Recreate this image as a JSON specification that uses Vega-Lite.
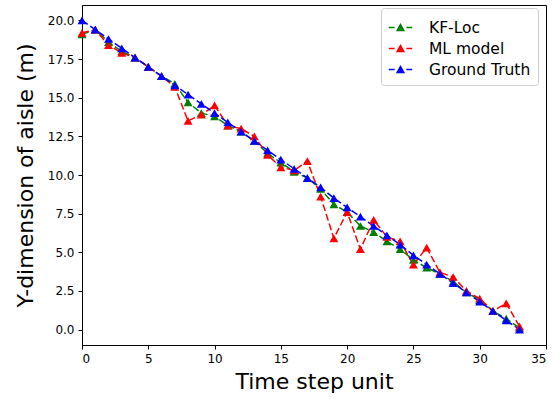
{
  "$schema": "https://vega.github.io/schema/vega-lite/v6.json",
  "width": 464,
  "height": 340,
  "autosize": "none",
  "padding": {"left": 82, "top": 5, "right": 9, "bottom": 55},
  "background": "white",
  "config": {
    "font": "DejaVu Sans",
    "view": {"stroke": "black", "strokeWidth": 1},
    "axis": {"grid": false, "domainColor": "black", "tickColor": "black", "labelColor": "black", "titleColor": "black", "labelFontSize": 12, "titleFontSize": 22, "titleFontWeight": "normal", "tickSize": 4, "labelPadding": 4}
  },
  "datasets": {
    "d": [
      {"t":0,"s":"KF-Loc","y":19.1},{"t":1,"s":"KF-Loc","y":19.4},{"t":2,"s":"KF-Loc","y":18.6},{"t":3,"s":"KF-Loc","y":18.0},{"t":4,"s":"KF-Loc","y":17.6},{"t":5,"s":"KF-Loc","y":17.0},{"t":6,"s":"KF-Loc","y":16.4},{"t":7,"s":"KF-Loc","y":15.9},{"t":8,"s":"KF-Loc","y":14.7},{"t":9,"s":"KF-Loc","y":14.0},{"t":10,"s":"KF-Loc","y":13.8},{"t":11,"s":"KF-Loc","y":13.2},{"t":12,"s":"KF-Loc","y":12.8},{"t":13,"s":"KF-Loc","y":12.2},{"t":14,"s":"KF-Loc","y":11.4},{"t":15,"s":"KF-Loc","y":10.8},{"t":16,"s":"KF-Loc","y":10.2},{"t":17,"s":"KF-Loc","y":9.8},{"t":18,"s":"KF-Loc","y":9.1},{"t":19,"s":"KF-Loc","y":8.1},{"t":20,"s":"KF-Loc","y":7.6},{"t":21,"s":"KF-Loc","y":6.7},{"t":22,"s":"KF-Loc","y":6.3},{"t":23,"s":"KF-Loc","y":5.7},{"t":24,"s":"KF-Loc","y":5.2},{"t":25,"s":"KF-Loc","y":4.5},{"t":26,"s":"KF-Loc","y":4.0},{"t":27,"s":"KF-Loc","y":3.6},{"t":28,"s":"KF-Loc","y":3.1},{"t":29,"s":"KF-Loc","y":2.4},{"t":30,"s":"KF-Loc","y":1.9},{"t":31,"s":"KF-Loc","y":1.2},{"t":32,"s":"KF-Loc","y":0.7},{"t":33,"s":"KF-Loc","y":0.1},
      {"t":0,"s":"ML model","y":19.2},{"t":1,"s":"ML model","y":19.4},{"t":2,"s":"ML model","y":18.4},{"t":3,"s":"ML model","y":17.9},{"t":4,"s":"ML model","y":17.6},{"t":5,"s":"ML model","y":17.0},{"t":6,"s":"ML model","y":16.4},{"t":7,"s":"ML model","y":15.7},{"t":8,"s":"ML model","y":13.5},{"t":9,"s":"ML model","y":13.9},{"t":10,"s":"ML model","y":14.5},{"t":11,"s":"ML model","y":13.2},{"t":12,"s":"ML model","y":13.0},{"t":13,"s":"ML model","y":12.5},{"t":14,"s":"ML model","y":11.3},{"t":15,"s":"ML model","y":10.5},{"t":16,"s":"ML model","y":10.3},{"t":17,"s":"ML model","y":10.9},{"t":18,"s":"ML model","y":8.6},{"t":19,"s":"ML model","y":5.9},{"t":20,"s":"ML model","y":7.6},{"t":21,"s":"ML model","y":5.2},{"t":22,"s":"ML model","y":7.1},{"t":23,"s":"ML model","y":6.0},{"t":24,"s":"ML model","y":5.7},{"t":25,"s":"ML model","y":4.2},{"t":26,"s":"ML model","y":5.3},{"t":27,"s":"ML model","y":3.7},{"t":28,"s":"ML model","y":3.4},{"t":29,"s":"ML model","y":2.5},{"t":30,"s":"ML model","y":2.0},{"t":31,"s":"ML model","y":1.2},{"t":32,"s":"ML model","y":1.7},{"t":33,"s":"ML model","y":0.2},
      {"t":0,"s":"Ground Truth","y":20.0},{"t":1,"s":"Ground Truth","y":19.4},{"t":2,"s":"Ground Truth","y":18.8},{"t":3,"s":"Ground Truth","y":18.2},{"t":4,"s":"Ground Truth","y":17.6},{"t":5,"s":"Ground Truth","y":17.0},{"t":6,"s":"Ground Truth","y":16.4},{"t":7,"s":"Ground Truth","y":15.8},{"t":8,"s":"Ground Truth","y":15.2},{"t":9,"s":"Ground Truth","y":14.6},{"t":10,"s":"Ground Truth","y":14.0},{"t":11,"s":"Ground Truth","y":13.4},{"t":12,"s":"Ground Truth","y":12.8},{"t":13,"s":"Ground Truth","y":12.2},{"t":14,"s":"Ground Truth","y":11.6},{"t":15,"s":"Ground Truth","y":11.0},{"t":16,"s":"Ground Truth","y":10.4},{"t":17,"s":"Ground Truth","y":9.8},{"t":18,"s":"Ground Truth","y":9.2},{"t":19,"s":"Ground Truth","y":8.5},{"t":20,"s":"Ground Truth","y":7.9},{"t":21,"s":"Ground Truth","y":7.3},{"t":22,"s":"Ground Truth","y":6.7},{"t":23,"s":"Ground Truth","y":6.1},{"t":24,"s":"Ground Truth","y":5.5},{"t":25,"s":"Ground Truth","y":4.8},{"t":26,"s":"Ground Truth","y":4.2},{"t":27,"s":"Ground Truth","y":3.6},{"t":28,"s":"Ground Truth","y":3.0},{"t":29,"s":"Ground Truth","y":2.4},{"t":30,"s":"Ground Truth","y":1.8},{"t":31,"s":"Ground Truth","y":1.2},{"t":32,"s":"Ground Truth","y":0.6},{"t":33,"s":"Ground Truth","y":0.0}
    ]
  },
  "data": {"name": "d"},
  "encoding": {
    "x": {"field": "t", "type": "quantitative", "title": "Time step unit", "scale": {"domain": [0, 35], "nice": false, "zero": false}, "axis": {"values": [0,5,10,15,20,25,30,35], "titlePadding": 7}},
    "y": {"field": "y", "type": "quantitative", "title": "Y-dimension of aisle (m)", "scale": {"domain": [-1, 21], "nice": false, "zero": false}, "axis": {"values": [0,2.5,5,7.5,10,12.5,15,17.5,20], "format": ".1f", "titlePadding": 10}},
    "color": {"field": "s", "type": "nominal", "sort": ["KF-Loc", "ML model", "Ground Truth"],
      "scale": {"domain": ["KF-Loc", "ML model", "Ground Truth"], "range": ["#008000", "#ff0000", "#0000ff"]},
      "legend": {"title": null, "orient": "none", "legendX": 299, "legendY": 3, "direction": "vertical", "labelFontSize": 15.5, "labelColor": "black", "strokeColor": "#cccccc", "fillColor": "white", "padding": 7, "cornerRadius": 3, "rowPadding": 0, "symbolType": "M-1,0L-0.5,0M0.5,0L1,0M-0.28,0.25L0,-0.25L0.28,0.25Z", "symbolSize": 550, "symbolStrokeWidth": 1.5, "labelOffset": 16}
    }
  },
  "mark": {"type": "line", "strokeDash": [7, 3], "strokeWidth": 1.5, "point": {"shape": "triangle-up", "size": 80, "filled": true}}
}
